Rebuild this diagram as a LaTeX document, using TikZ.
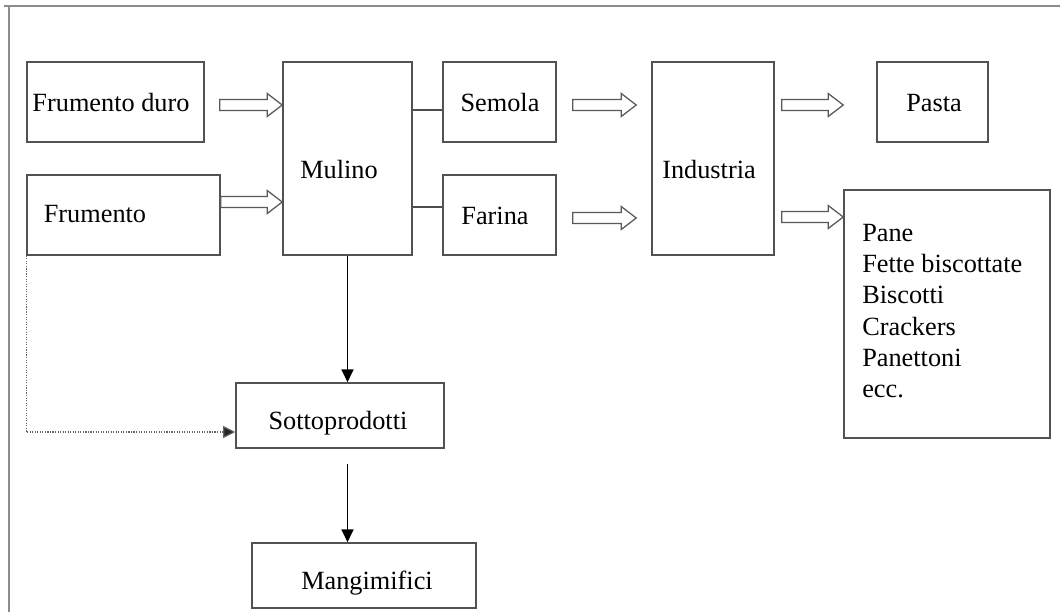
\documentclass[tikz,border=0pt]{standalone}
\usepackage{fontspec}
\setmainfont{Liberation Serif}
\usetikzlibrary{calc,arrows.meta}
\tikzset{
	box/.style={draw=black!68, line width=1.1pt, inner sep=0pt},
	txt/.style={inner sep=0pt},
	link/.style={draw=black!70, line width=1pt},
	flow/.style={draw=black, line width=0.9pt, -{Triangle[length=0.32cm,width=0.3cm]}},
	dotline/.style={draw=black!60, line width=0.8pt, densely dotted, -{Triangle[length=0.3cm,width=0.3cm,fill=black!85]}},
	fat/.style={draw=black!65, line width=0.9pt, fill=white, line join=miter},
	frame/.style={draw=black!45, line width=1.3pt}
}
% freccia larga (contorno)
\newcommand{\fatarrow}[2]{%
	\draw[fat] ($(#1)+(0,-5.5)$) -- ($(#2)+(-15,-5.5)$) -- ($(#2)+(-15,-11.5)$) -- (#2)
		-- ($(#2)+(-15,11.5)$) -- ($(#2)+(-15,5.5)$) -- ($(#1)+(0,5.5)$) -- cycle;}
\begin{document}
\begin{tikzpicture}[x=0.025cm, y=-0.025cm, font=\fontsize{18.7}{22.2}\selectfont]
	\def\pxu{0.025cm}
	\useasboundingbox (0,0) rectangle (1060,612);
	\draw[frame] (4,6) -- (1064,6);
	\draw[frame] (9,6) -- (9,616);
	% blocchi
	\node[box, minimum width=177*\pxu, minimum height=80*\pxu] (fduro) at (115.5,102) {};
	\node[box, minimum width=193*\pxu, minimum height=80*\pxu] (frum) at (123.5,215) {};
	\node[box, minimum width=129*\pxu, minimum height=193*\pxu] (mulino) at (347.5,158.5) {};
	\node[box, minimum width=113*\pxu, minimum height=80*\pxu] (semola) at (499.5,102) {};
	\node[box, minimum width=113*\pxu, minimum height=80*\pxu] (farina) at (499.5,215) {};
	\node[box, minimum width=122*\pxu, minimum height=193*\pxu] (industria) at (713,158.5) {};
	\node[box, minimum width=111*\pxu, minimum height=80*\pxu] (pasta) at (932.5,102) {};
	\node[box, minimum width=206*\pxu, minimum height=248*\pxu] (prodotti) at (947,314) {};
	\node[box, minimum width=208*\pxu, minimum height=65*\pxu] (sotto) at (340,415.5) {};
	\node[box, minimum width=224*\pxu, minimum height=65*\pxu] (mangimi) at (364,575.5) {};
	% testi
	\node[txt] (tfduro) at (111,103) {Frumento duro};
	\node[txt] (tfrum) at (95,214) {Frumento};
	\node[txt] (tmulino) at (339,170) {Mulino};
	\node[txt] (tsemola) at (500,103) {Semola};
	\node[txt] (tfarina) at (495,216) {Farina};
	\node[txt] (tindustria) at (709,170) {Industria};
	\node[txt] (tpasta) at (934,103) {Pasta};
	\node[txt, anchor=north west, align=left] (tprodotti) at (862,224) {Pane\\Fette biscottate\\Biscotti\\Crackers\\Panettoni\\ecc.};
	\node[txt] (tsotto) at (338,423) {Sottoprodotti};
	\node[txt] (tmangimi) at (367,583) {Mangimifici};
	% collegamenti
	\coordinate (s1) at ($(semola.west)+(0,8)$);
	\coordinate (f1) at ($(farina.west)+(0,-8)$);
	\draw[link] (mulino.east |- s1) -- (s1);
	\draw[link] (mulino.east |- f1) -- (f1);
	\coordinate (a1) at ($(fduro.east)+(15,3)$);
	\coordinate (a2) at ($(frum.east)+(0,-13)$);
	\coordinate (a3) at ($(semola.east)+(16,3)$);
	\coordinate (a4) at ($(farina.east)+(16,3)$);
	\coordinate (a5) at ($(industria.east)+(7,-53.5)$);
	\coordinate (a6) at ($(industria.east)+(7,58.5)$);
	\fatarrow{a1}{mulino.west |- a1}
	\fatarrow{a2}{mulino.west |- a2}
	\fatarrow{a3}{$(industria.west |- a3)+(-15,0)$}
	\fatarrow{a4}{$(industria.west |- a4)+(-15,0)$}
	\fatarrow{a5}{prodotti.west |- a5}
	\fatarrow{a6}{prodotti.west |- a6}
	\draw[flow] (mulino.south) -- (mulino.south |- sotto.north);
	\draw[flow] ($(mulino.south |- sotto.south)+(0,15)$) -- (mulino.south |- mangimi.north);
	\coordinate (d1) at ($(sotto.west)+(0,16.5)$);
	\draw[dotline] (frum.south west) |- (d1);
\end{tikzpicture}
\end{document}
